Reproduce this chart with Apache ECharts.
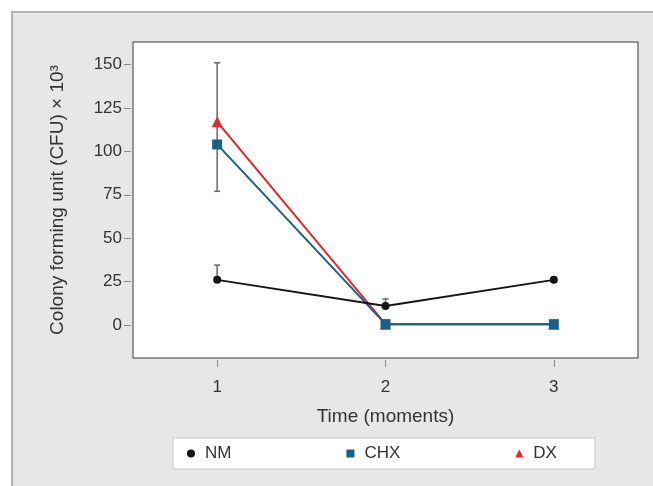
<!DOCTYPE html>
<html>
<head>
<meta charset="utf-8">
<script src="https://cdn.jsdelivr.net/npm/echarts@6/dist/echarts.min.js"></script>
<style>
  html, body { margin: 0; padding: 0; background: #fff; }
  #chart { width: 653px; height: 486px; }
</style>
</head>
<body>
<div id="chart"></div>
<script>
// data
const moments = [1, 2, 3]
const yTicks = [0, 25, 50, 75, 100, 125, 150]
const nm = [26, 11, 26]
const chx = [104, 0.5, 0.5]
const dx = [117, 0.5, 0.5]
// error bars [moment, low, high, cap on low, cap on high]
const nmErr = [[1, 26, 34.5, 0, 1], [2, 11, 15, 0, 1]]
const chxErr = [[1, 77, 104, 1, 0]]
const dxErr = [[1, 104, 151, 0, 1]]

const font = 'Liberation Sans, Arial, sans-serif'

function pts(vals) {
  return vals.map((v, i) => [moments[i], v])
}

function errorBars(err, color) {
  return {
    type: 'custom',
    silent: true,
    z: 1,
    data: err,
    renderItem: (params, api) => {
      const top = api.coord([api.value(0), api.value(2)])
      const bot = api.coord([api.value(0), api.value(1)])
      const w = 3
      const style = { stroke: color, lineWidth: 1.5 }
      const kids = [{ type: 'line', shape: { x1: top[0], y1: top[1], x2: bot[0], y2: bot[1] }, style }]
      if (api.value(4)) kids.push({ type: 'line', shape: { x1: top[0] - w, y1: top[1], x2: top[0] + w, y2: top[1] }, style })
      if (api.value(3)) kids.push({ type: 'line', shape: { x1: bot[0] - w, y1: bot[1], x2: bot[0] + w, y2: bot[1] }, style })
      return { type: 'group', children: kids }
    }
  }
}

const myChart = echarts.init(document.getElementById('chart'))
myChart.setOption({
  animation: false,
  backgroundColor: '#fff',
  textStyle: { fontFamily: font },
  graphic: [
    {
      type: 'rect', z: -10, silent: true,
      shape: { x: 12, y: 12, width: 660, height: 500 },
      style: { fill: '#e7e7e7', stroke: '#b3b3b3', lineWidth: 2 }
    }
  ],
  grid: {
    left: 133, top: 42, right: 15, bottom: 128,
    show: true, backgroundColor: '#fff', borderColor: '#777', borderWidth: 1.5
  },
  xAxis: {
    type: 'value', min: 0.5, max: 3.5, offset: 2,
    name: 'Time (moments)', nameLocation: 'middle', nameGap: 47,
    nameTextStyle: { fontSize: 19, color: '#333', fontFamily: font },
    axisLine: { show: false, onZero: false },
    axisTick: { show: true, length: 7, lineStyle: { color: '#888' }, customValues: moments },
    axisLabel: { fontSize: 17, color: '#333', margin: 19, customValues: moments, fontFamily: font },
    splitLine: { show: false }
  },
  yAxis: {
    type: 'value', min: -19, max: 163, offset: 2,
    name: 'Colony forming unit (CFU) × 10³', nameLocation: 'middle', nameGap: 64,
    nameTextStyle: { fontSize: 19, color: '#333', fontFamily: font },
    axisLine: { show: false, onZero: false },
    axisTick: { show: true, length: 7, lineStyle: { color: '#888' }, customValues: yTicks },
    axisLabel: { fontSize: 17, color: '#333', margin: 9, customValues: yTicks, fontFamily: font },
    splitLine: { show: false }
  },
  legend: {
    left: 173, top: 438,
    backgroundColor: '#fff', borderColor: '#c8c8c8', borderWidth: 1,
    padding: [7, 38, 7, 14],
    itemGap: 115, itemWidth: 8, itemHeight: 8,
    textStyle: { fontSize: 17, color: '#333', fontFamily: font, padding: [0, 0, 0, 5] },
    data: [
      { name: 'NM', icon: 'circle' },
      { name: 'CHX', icon: 'rect' },
      { name: 'DX', icon: 'triangle' }
    ]
  },
  series: [
    errorBars(dxErr, '#666'),
    errorBars(chxErr, '#666'),
    errorBars(nmErr, '#666'),
    {
      name: 'DX', type: 'line', data: pts(dx), z: 3,
      symbol: 'triangle', symbolSize: 11,
      lineStyle: { color: '#e0292d', width: 2 },
      itemStyle: { color: '#e0292d' }
    },
    {
      name: 'CHX', type: 'line', data: pts(chx), z: 4,
      symbol: 'rect', symbolSize: 10,
      lineStyle: { color: '#1a5f86', width: 2 },
      itemStyle: { color: '#1a5f86' }
    },
    {
      name: 'NM', type: 'line', data: pts(nm), z: 5,
      symbol: 'circle', symbolSize: 8,
      lineStyle: { color: '#151515', width: 2 },
      itemStyle: { color: '#151515' }
    }
  ]
})
</script>
</body>
</html>
